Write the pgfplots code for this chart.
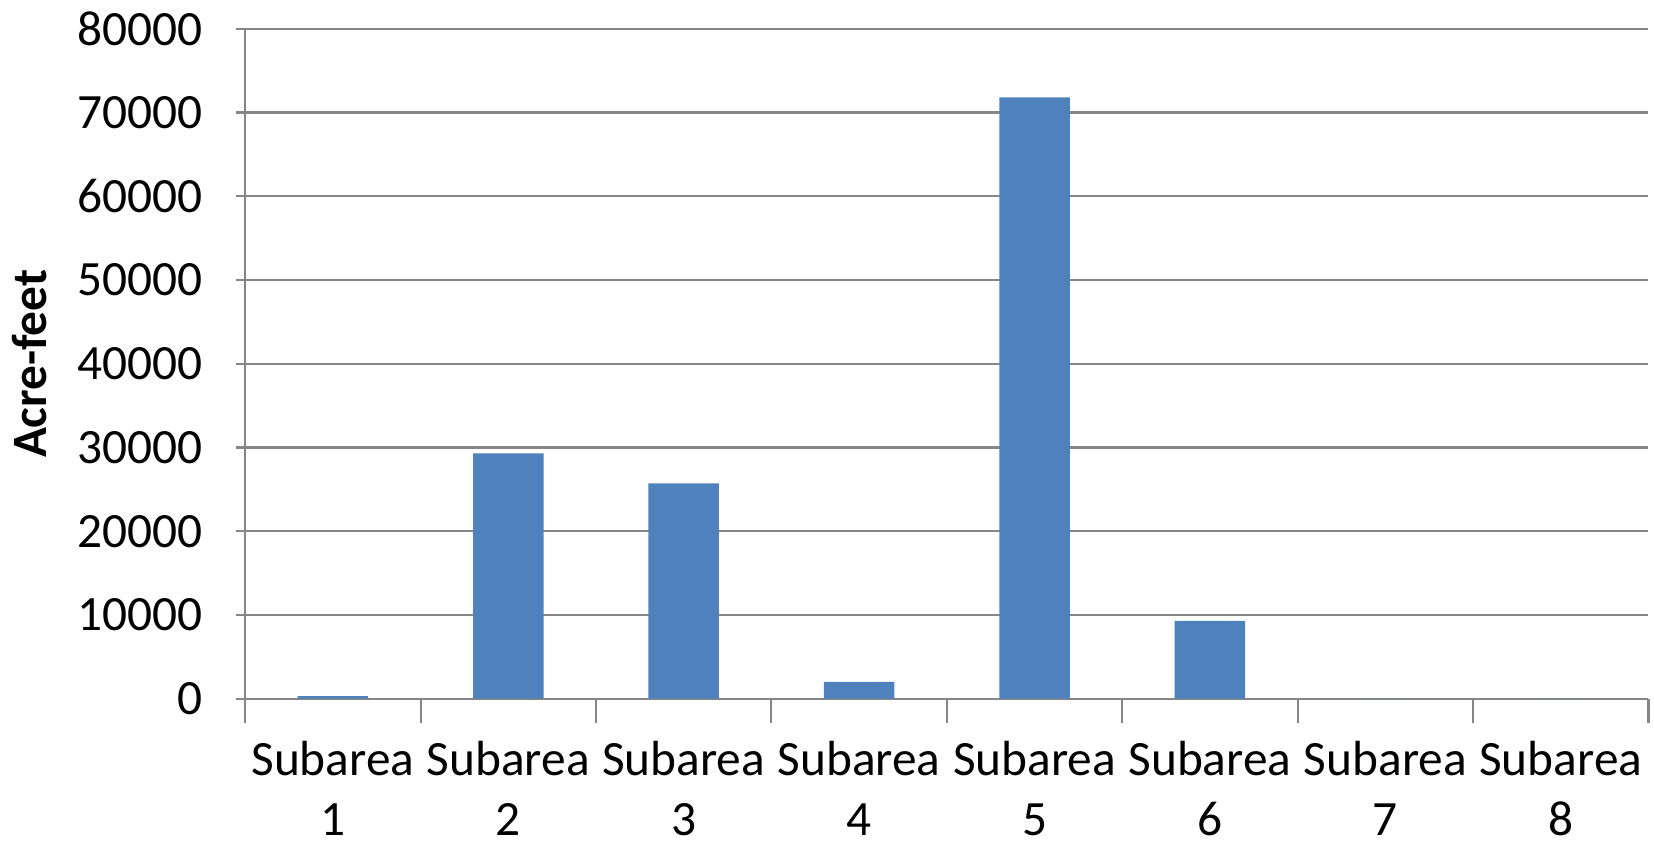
\documentclass[border=0pt]{standalone}
\usepackage{pgfplots}
\pgfplotsset{compat=1.18}
\usepackage{fontspec}
\setmainfont{Carlito}
\definecolor{barblue}{HTML}{4F81BD}
\definecolor{gridgray}{HTML}{868686}
\begin{document}
\begin{tikzpicture}
\begin{axis}[
	width=398pt, height=190pt,
	scale only axis,
	font=\fontsize{14}{17}\selectfont,
	ymin=0, ymax=80000,
	ytick={0,10000,...,80000},
	scaled y ticks=false,
	xmin=0.5, xmax=8.5,
	xtick={1,...,8},
	xticklabels={Subarea\\1,Subarea\\2,Subarea\\3,Subarea\\4,Subarea\\5,Subarea\\6,Subarea\\7,Subarea\\8},
	xticklabel style={align=center, yshift=-6pt},
	minor xtick={0.5,1.5,...,8.5},
	major x tick style={draw=none},
	minor x tick style={gridgray, line width=0.6pt},
	tick align=outside,
	minor tick length=7pt,
	major tick length=2.5pt,
	y tick style={gridgray, line width=0.6pt},
	yticklabel style={xshift=-6pt},
	/pgf/number format/1000 sep={},
	/pgf/number format/assume math mode=true,
	ymajorgrids,
	grid style={gridgray, line width=0.6pt},
	axis x line*=bottom,
	axis y line*=left,
	axis line style={gridgray, line width=0.6pt, -},
	ylabel={\textbf{Acre-feet}},
	ylabel style={yshift=2pt},
	ybar, bar width=20pt,
]
\addplot[fill=barblue, draw=none] coordinates {
	(1,300) (2,29300) (3,25700) (4,2000) (5,71800) (6,9300) (7,0) (8,0)
};
\end{axis}
\end{tikzpicture}
\end{document}
